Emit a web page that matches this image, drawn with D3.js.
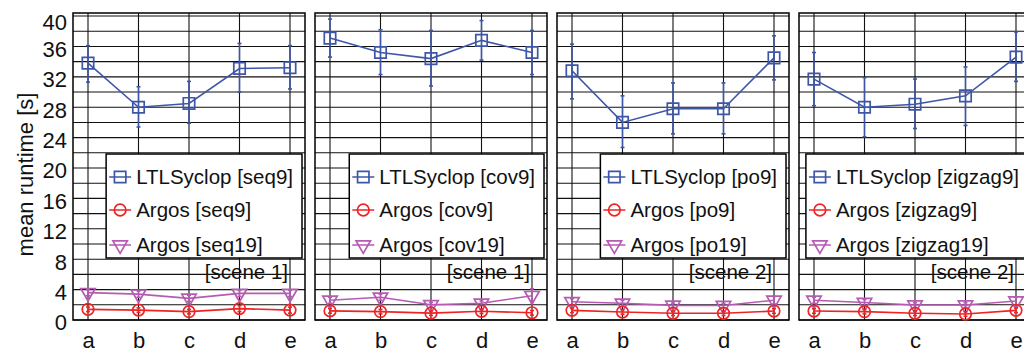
<!DOCTYPE html>
<html><head><meta charset="utf-8">
<script src="https://cdn.jsdelivr.net/npm/d3@7"></script>
<style>body{margin:0;background:#fff;} svg{display:block;font-family:"Liberation Sans",Arial,sans-serif;}</style>
</head><body>
<svg id="c" width="1024" height="352"></svg>
<script>
const categories = ["a","b","c","d","e"];
const yTicks = [0,4,8,12,16,20,24,28,32,36,40];
const gridValues = d3.range(0, 41, 2);
const ltlNames = ["LTLSyclop [seq9]","LTLSyclop [cov9]","LTLSyclop [po9]","LTLSyclop [zigzag9]"];
const argos9Names = ["Argos [seq9]","Argos [cov9]","Argos [po9]","Argos [zigzag9]"];
const argos19Names = ["Argos [seq19]","Argos [cov19]","Argos [po19]","Argos [zigzag19]"];
const sceneLabels = ["[scene 1]","[scene 1]","[scene 2]","[scene 2]"];

const ltlMean = [
  [33.8, 28.0, 28.5, 33.1, 33.2],
  [37.1, 35.2, 34.4, 36.8, 35.2],
  [32.8, 26.0, 27.8, 27.8, 34.5],
  [31.7, 28.0, 28.4, 29.5, 34.6]
];
const ltlHigh = [
  [36.1, 30.7, 31.4, 36.4, 36.1],
  [39.6, 38.2, 38.1, 39.4, 38.1],
  [36.3, 29.5, 31.2, 31.2, 37.4],
  [35.2, 31.9, 31.7, 33.3, 37.9]
];
const ltlLow = [
  [31.3, 25.4, 25.9, 30.0, 30.4],
  [34.6, 32.3, 30.8, 34.2, 32.3],
  [29.1, 22.7, 24.5, 24.5, 31.6],
  [28.2, 24.1, 25.2, 25.6, 31.4]
];
const argos9Mean = [
  [1.4, 1.3, 1.1, 1.5, 1.3],
  [1.2, 1.1, 0.9, 1.15, 0.95],
  [1.27, 1.05, 0.88, 0.88, 1.18],
  [1.18, 1.1, 0.88, 0.79, 1.27]
];
const argos9Err = [
  [0.3, 0.3, 0.3, 0.4, 0.4],
  [0.3, 0.3, 0.3, 0.3, 0.3],
  [0.3, 0.3, 0.3, 0.3, 0.3],
  [0.3, 0.3, 0.3, 0.3, 0.3]
];
const argos19Mean = [
  [3.6, 3.4, 2.85, 3.5, 3.5],
  [2.6, 3.0, 2.0, 2.2, 3.2],
  [2.4, 2.2, 1.93, 1.9, 2.6],
  [2.6, 2.3, 1.97, 1.97, 2.5]
];
const argos19Err = [
  [0.4, 0.4, 0.4, 0.4, 0.4],
  [0.4, 0.4, 0.3, 0.3, 0.9],
  [0.4, 0.4, 0.3, 0.3, 0.5],
  [0.4, 0.4, 0.3, 0.3, 0.5]
];

const BLUE = "#3d56a8", RED = "#ee2424", PURPLE = "#b65ab2";
const svg = d3.select("#c");
const plotTop = 13, plotBottom = 320, pw = 232, step = 242, left0 = 73;
const y = d3.scaleLinear().domain([0, 40.4]).range([plotBottom, plotTop]);
const FONT = '"Liberation Sans",Arial,sans-serif';

// y axis title
svg.append("text").attr("transform", `translate(33,${(plotTop+plotBottom)/2 + 8}) rotate(-90)`)
  .attr("text-anchor","middle").attr("font-size", 22).attr("fill","#111").text("mean runtime [s]");

for (let p = 0; p < 4; p++) {
  const L = left0 + p*step, R = L + pw;
  const x = d3.scalePoint().domain(categories).range([L+15, R-15]);
  const g = svg.append("g");

  // grid
  g.selectAll(".hg").data(gridValues).join("line")
    .attr("x1", L).attr("x2", R).attr("y1", d=>y(d)).attr("y2", d=>y(d))
    .attr("stroke","#111").attr("stroke-width",1.1);
  g.selectAll(".vg").data(categories).join("line")
    .attr("x1", d=>x(d)).attr("x2", d=>x(d)).attr("y1", plotTop).attr("y2", plotBottom)
    .attr("stroke","#111").attr("stroke-width",1.1);
  g.append("rect").attr("x",L).attr("y",plotTop).attr("width",pw).attr("height",plotBottom-plotTop)
    .attr("fill","none").attr("stroke","#000").attr("stroke-width",1.5);

  // x labels
  const xa = d3.axisBottom(x).tickSize(0).tickPadding(0);
  const xg = svg.append("g").attr("transform",`translate(0,${plotBottom})`).call(xa);
  xg.select(".domain").remove();
  xg.selectAll("text").attr("font-size",22).attr("fill","#111").attr("dy",null).attr("y",28)
    .attr("font-family",FONT);

  if (p === 0) {
    const ya = d3.axisLeft(y).tickValues(yTicks).tickSize(0).tickPadding(6);
    const yg = svg.append("g").attr("transform",`translate(${L},0)`).call(ya);
    yg.select(".domain").remove();
    yg.selectAll("text").attr("font-size",22).attr("fill","#111")
      .attr("font-family",FONT)
      .attr("dy", d => d === 40 ? "0.62em" : "0.45em");
  }

  // legend
  const lg = svg.append("g");
  const names = [ltlNames[p], argos9Names[p], argos19Names[p]];
  const rowsY = [177, 210, 245];
  const tmp = lg.append("text").attr("font-size",20.5).text(ltlNames[p]);
  const tw = tmp.node().getComputedTextLength(); tmp.remove();
  const lgR = R - 3, lgL = lgR - 9 - tw - 30;
  lg.append("rect").attr("x",lgL).attr("y",154).attr("width",lgR-lgL).attr("height",104)
    .attr("fill","#fff").attr("stroke","#000").attr("stroke-width",1.5);
  const colors = [BLUE, RED, PURPLE];
  const syms = [d3.symbolSquare, d3.symbolCircle, d3.symbolTriangle];
  const sizes = [130, 105, 90];
  names.forEach((n,i) => {
    lg.append("line").attr("x1",lgL+3).attr("x2",lgL+25).attr("y1",rowsY[i]).attr("y2",rowsY[i])
      .attr("stroke",colors[i]).attr("stroke-width",1.5);
    lg.append("path").attr("d", d3.symbol(syms[i], sizes[i])())
      .attr("transform",`translate(${lgL+14},${rowsY[i]})` + (i===2?" rotate(180)":""))
      .attr("fill","none").attr("stroke",colors[i]).attr("stroke-width",1.7);
    lg.append("text").attr("x",lgL+30).attr("y",rowsY[i]+7).attr("font-size",20.5).attr("fill","#111").text(n);
  });

  svg.append("text").attr("x", R-17).attr("y", 279).attr("text-anchor","end")
    .attr("font-size",20.5).attr("fill","#111").text(sceneLabels[p]);

  // series
  const series = [
    {m: ltlMean[p], lo: ltlLow[p], hi: ltlHigh[p], c: BLUE, s: 0},
    {m: argos9Mean[p], lo: argos9Mean[p].map((v,i)=>v-argos9Err[p][i]), hi: argos9Mean[p].map((v,i)=>v+argos9Err[p][i]), c: RED, s: 1},
    {m: argos19Mean[p], lo: argos19Mean[p].map((v,i)=>v-argos19Err[p][i]), hi: argos19Mean[p].map((v,i)=>v+argos19Err[p][i]), c: PURPLE, s: 2}
  ];
  series.slice().reverse().forEach(S => {
    const sg = svg.append("g");
    sg.append("path").datum(S.m).attr("fill","none").attr("stroke",S.c).attr("stroke-width",1.6)
      .attr("d", d3.line().x((d,i)=>x(categories[i])).y(d=>y(d)));
    categories.forEach((c,i) => {
      const cx = x(c);
      sg.append("line").attr("x1",cx).attr("x2",cx).attr("y1",y(S.lo[i])).attr("y2",y(S.hi[i]))
        .attr("stroke",S.c).attr("stroke-width",1.6);
      [S.lo[i], S.hi[i]].forEach(v => sg.append("line").attr("x1",cx-2).attr("x2",cx+2)
        .attr("y1",y(v)).attr("y2",y(v)).attr("stroke",S.c).attr("stroke-width",1.6));
      sg.append("path").attr("d", d3.symbol(syms[S.s], sizes[S.s])())
        .attr("transform",`translate(${cx},${y(S.m[i])})` + (S.s===2?" rotate(180)":""))
        .attr("fill","none").attr("stroke",S.c).attr("stroke-width",1.7);
    });
  });
}
</script>
</body></html>
